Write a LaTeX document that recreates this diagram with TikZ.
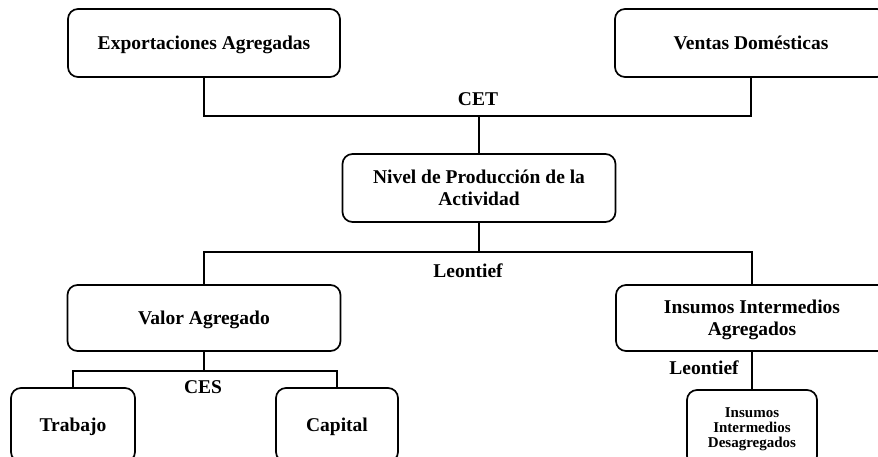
\documentclass[tikz,border=0pt]{standalone}
\usepackage{fontspec}
\setmainfont{Liberation Serif}
\begin{document}
\begin{tikzpicture}[x=1pt,y=-1pt,line width=1.7pt]
        \tikzstyle{caja}=[draw,rounded corners=10pt,inner sep=2pt,align=center,text depth=0pt,
                          font=\fontsize{19.5}{22}\selectfont\bfseries]
        \tikzstyle{etiqueta}=[inner sep=0pt,font=\fontsize{19.5}{22}\selectfont\bfseries]

        \useasboundingbox (0,0) rectangle (878,457);
        \clip (0,0) rectangle (878,457);

        \foreach \name/\x/\y/\w/\h/\text in {exp/204/43/272/68/Exportaciones Agregadas,
                                             ven/751/43/272/68/Ventas Domésticas,
                                             niv/479/188/273/68/{Nivel de Producción de la\\Actividad},
                                             val/204/318/273/66/Valor Agregado,
                                             ins/752/318/272/66/{Insumos Intermedios\\Agregados},
                                             tra/73/425/124/74/Trabajo,
                                             cap/337/425/122/74/Capital}
          \node[caja,minimum width=\w pt,minimum height=\h pt] (\name) at (\x,\y) {\text};

        \node[caja,minimum width=130pt,minimum height=76pt,
              font=\fontsize{15}{15}\selectfont\bfseries] (des) at (752,428)
              {Insumos\\Intermedios\\Desagregados};

        \coordinate (cet) at (479,116);
        \coordinate (leo) at (479,252);
        \coordinate (ces) at (204,371);

        \draw (exp.south) |- (cet) -| (ven.south);
        \draw (cet) -- (niv.north);
        \draw (val.north) |- (leo) -| (ins.north);
        \draw (leo) -- (niv.south);
        \draw (tra.north) |- (ces) -| (cap.north);
        \draw (ces) -- (val.south);
        \draw (ins.south) -- (des.north);

        \node[etiqueta] (l-cet) at (478,99) {CET};
        \node[etiqueta] (l-leo) at (468,271) {Leontief};
        \node[etiqueta] (l-ces) at (203,387) {CES};
        \node[etiqueta] (l-leo2) at (704,368) {Leontief};
      \end{tikzpicture}
\end{document}
